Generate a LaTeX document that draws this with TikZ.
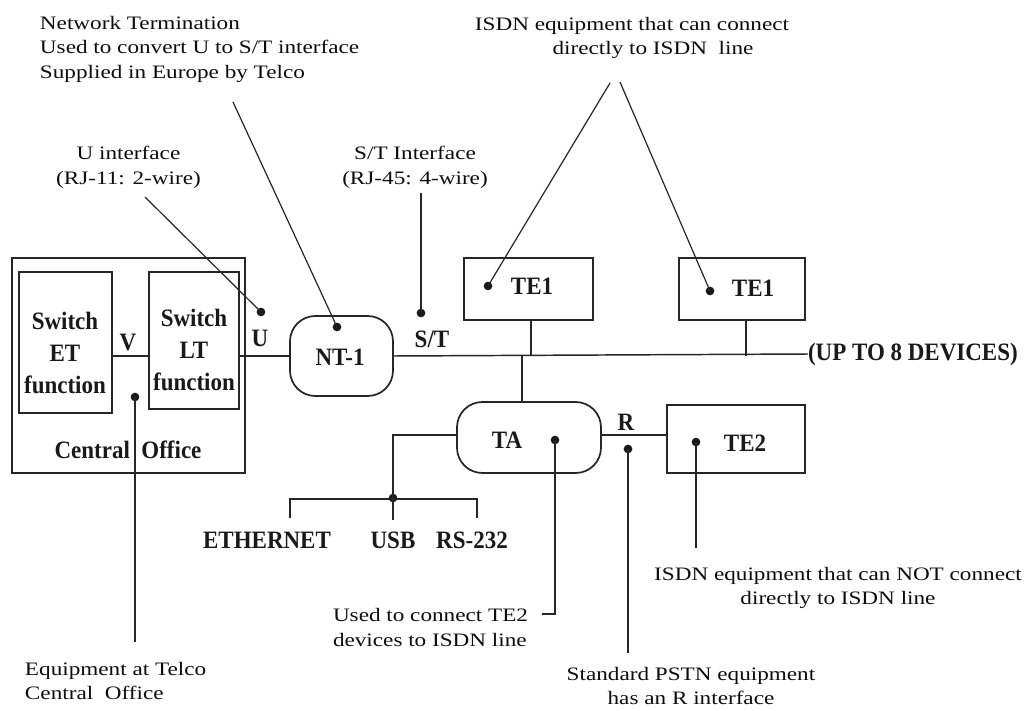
\documentclass[tikz,border=0pt]{standalone}
\usepackage{fontspec}
\setmainfont{Liberation Serif}[FakeStretch=1.22]
\newfontfamily\bfnt{Liberation Serif}[FakeStretch=0.92]
\usetikzlibrary{fit}
\tikzset{
  every node/.style={inner sep=0pt, outer sep=0pt},
  ln/.style={draw=black!85, line width=1.1pt},
  ann/.style={draw=black!85, line width=0.9pt},
  box/.style={draw=black!85, line width=1.3pt, rectangle, inner sep=0pt},
  rbox/.style={box, rounded corners=19pt},
  dot/.style={circle, fill=black!90, minimum size=6.5pt, inner sep=0pt},
  txt/.style={text=black!95, font=\fontsize{14.25pt}{18.4pt}\selectfont},
  btxt/.style={text=black!90, font=\bfnt\bfseries\fontsize{18.75pt}{24pt}\selectfont}
}
\begin{document}
\begin{tikzpicture}[x=0.75pt, y=-0.75pt]
\useasboundingbox[fill=white] (0,0) rectangle (1026,711);

% boxes
\node[box, fit={(12,258)(245,473)}] (co) {};
\node[box, fit={(19,272)(112,413)}] (et) {};
\node[box, fit={(149,272)(239,409)}] (lt) {};
\node[rbox, fit={(290,316)(393,396)}] (nt1) {};
\node[box, fit={(464,258)(593,320)}] (te1a) {};
\node[box, fit={(679,258)(805,320)}] (te1b) {};
\node[rbox, fit={(457,402)(601,473)}] (ta) {};
\node[box, fit={(667,405)(805,473)}] (te2) {};

% box texts
\node[btxt, align=center] (etlbl) at (65,353) {Switch\\ET\\function};
\node[btxt, align=center] (ltlbl) at (194,350) {Switch\\LT\\function};
\node[btxt] (colbl) at (128,450) {Central\ \ Office};
\node[btxt] (nt1lbl) at (340,357) {NT-1};
\node[btxt] (te1albl) at (532,286) {TE1};
\node[btxt] (te1blbl) at (753,288) {TE1};
\node[btxt] (talbl) at (507,440) {TA};
\node[btxt] (te2lbl) at (745,443) {TE2};

% interface labels
\node[btxt] (vlbl) at (128,342) {V};
\node[btxt] (ulbl) at (260,338) {U};
\node[btxt] (stlbl) at (432,339) {S/T};
\node[btxt] (rlbl) at (626,422) {R};
\node[btxt, anchor=west] (updev) at (808,354) {(UP TO 8 DEVICES)};
\node[btxt] (eth) at (267,540) {ETHERNET};
\node[btxt] (usb) at (393,540) {USB};
\node[btxt] (rs) at (472,540) {RS-232};

% annotations
\node[txt, align=left, anchor=west] (ntnote) at (40,49) {Network Termination\\Used to convert U to S/T interface\\Supplied in Europe by Telco};
\node[txt, align=center] (isdnnote) at (632,38) {ISDN equipment that can connect\\\hspace*{31.5pt}directly to ISDN\ \ line};
\node[txt, align=center] (unote) at (128.5,167.5) {U interface\\(RJ-11: 2-wire)};
\node[txt, align=center] (stnote) at (415,167.5) {S/T Interface\\(RJ-45: 4-wire)};
\node[txt, align=left, anchor=west] (eqnote) at (25,681) {Equipment at Telco\\Central\ \ Office};
\node[txt, align=left, anchor=west] (tanote) at (333,627.5) {Used to connect TE2\\devices to ISDN line};
\node[txt, align=center] (pstnnote) at (691,686) {Standard PSTN equipment\\has an R interface};
\node[txt, align=center] (te2note) at (838,588) {ISDN equipment that can NOT connect\\directly to ISDN line};

% dots
\node[dot] (udot) at (261,312) {};
\node[dot] (ntdot) at (337,327) {};
\node[dot] (stdot) at (421,313) {};
\node[dot] (te1adot) at (488,286) {};
\node[dot] (te1bdot) at (710,291) {};
\node[dot] (codot) at (135,397) {};
\node[dot] (tadot) at (555,440) {};
\node[dot] (rdot) at (628,449) {};
\node[dot] (te2dot) at (696,442) {};
\node[dot] (usbdot) at (393,498) {};

% coordinates
\coordinate (vline) at (0,356);
\coordinate (rline) at (0,435);
\coordinate (j1) at (531,356);
\coordinate (j2) at (746,356);
\coordinate (j3) at (522,356);
\coordinate (usbbot) at (393,520);
\coordinate (bl) at (290,518);
\coordinate (brt) at (477,499);
\coordinate (br) at (477,518);
\coordinate (uend) at (145,197);
\coordinate (ntend) at (233,102);
\coordinate (stend) at (421,193);
\coordinate (isdnl) at (610,83);
\coordinate (isdnr) at (620,82);
\coordinate (eqend) at (135,642);
\coordinate (taend1) at (555,614);
\coordinate (taend2) at (542,614);
\coordinate (rend) at (628,653);
\coordinate (te2end) at (696,548);

% connectors
\draw[ln] (et.east |- vline) -- (lt.west |- vline);
\draw[ln] (lt.east |- vline) -- (nt1.west);
\draw[ln] (nt1.east) -- (updev.west);
\draw[ln] (te1a.south -| j1) -- (j1);
\draw[ln] (te1b.south -| j2) -- (j2);
\draw[ln] (j3) -- (ta.north -| j3);
\draw[ln] (ta.east |- rline) -- (te2.west |- rline);
\draw[ln] (ta.west |- rline) -| (usbbot);
\draw[ln] (bl) |- (brt) -- (br);

% annotation lines
\draw[ann] (uend) -- (udot.center);
\draw[ann] (ntend) -- (ntdot.center);
\draw[ln] (stend) -- (stdot.center);
\draw[ann] (isdnl) -- (te1adot.center);
\draw[ann] (isdnr) -- (te1bdot.center);
\draw[ann] (codot.center) -- (eqend);
\draw[ln] (tadot.center) |- (taend2);
\draw[ln] (rdot.center) -- (rend);
\draw[ln] (te2dot.center) -- (te2end);
\end{tikzpicture}
\end{document}
